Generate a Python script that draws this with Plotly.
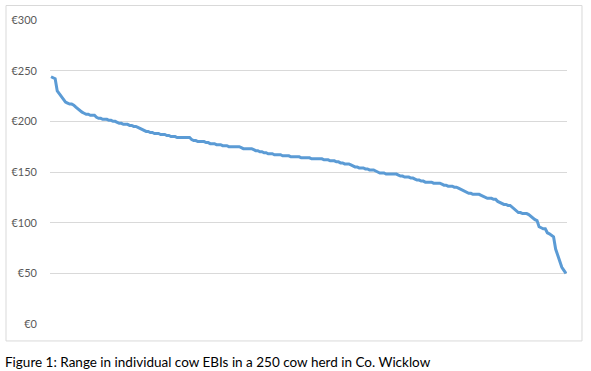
import plotly.graph_objects as go

ebi_values = [
    244, 243, 242, 230, 227, 225, 222, 219, 218, 217,
    217, 216, 214, 212, 210, 209, 208, 207, 207, 206,
    206, 206, 204, 203, 203, 202, 202, 202, 201, 201,
    200, 200, 199, 198, 198, 197, 197, 197, 196, 196,
    195, 195, 194, 193, 192, 191, 190, 190, 189, 189,
    188, 188, 188, 187, 187, 187, 186, 186, 185, 185,
    185, 184, 184, 184, 184, 184, 184, 184, 182, 181,
    181, 180, 180, 180, 180, 179, 179, 178, 178, 178,
    177, 177, 177, 176, 176, 176, 175, 175, 175, 175,
    175, 175, 174, 173, 173, 173, 173, 173, 172, 171,
    171, 170, 170, 169, 169, 168, 168, 168, 167, 167,
    167, 167, 166, 166, 166, 166, 165, 165, 165, 165,
    165, 164, 164, 164, 164, 164, 163, 163, 163, 163,
    163, 163, 162, 162, 162, 161, 161, 161, 160, 160,
    159, 159, 158, 158, 158, 157, 156, 155, 155, 154,
    154, 154, 153, 153, 152, 152, 152, 151, 150, 149,
    149, 149, 148, 148, 148, 148, 148, 148, 147, 146,
    146, 145, 145, 145, 144, 144, 143, 142, 142, 141,
    141, 140, 140, 140, 140, 139, 139, 139, 139, 138,
    137, 137, 136, 136, 136, 135, 135, 134, 133, 132,
    131, 130, 129, 129, 128, 128, 128, 128, 127, 126,
    125, 124, 124, 124, 123, 123, 121, 120, 119, 118,
    118, 117, 117, 115, 113, 111, 110, 110, 109, 109,
    109, 108, 106, 105, 103, 102, 96, 95, 94, 94,
    90, 89, 87, 86, 74, 68, 60, 56, 53, 50,
]
cow_index = list(range(1, len(ebi_values) + 1))

y_tick_values = [0, 50, 100, 150, 200, 250, 300]
y_tick_labels = ["€0", "€50", "€100", "€150", "€200", "€250", "€300"]

caption = "Figure 1: Range in individual cow EBIs in a 250 cow herd in Co. Wicklow"

fig = go.Figure()
fig.add_trace(go.Scatter(
    x=cow_index, y=ebi_values, mode="lines",
    line=dict(color="#5b9bd5", width=3),
    hoverinfo="skip", showlegend=False,
))

fig.update_layout(
    width=591, height=371,
    margin=dict(l=50, r=24, t=19.5, b=47),
    paper_bgcolor="white", plot_bgcolor="white",
    font=dict(family="Lato, Open Sans, sans-serif", color="#595959", size=11),
    xaxis=dict(visible=False, range=[0.5, 250.5]),
    yaxis=dict(
        range=[0, 300], tickvals=y_tick_values, ticktext=y_tick_labels,
        showgrid=True, gridcolor="#d9d9d9", gridwidth=1,
        zeroline=False, showline=False, ticks="", ticklabelstandoff=12,
        tickfont=dict(size=11, color="#595959"),
    ),
    shapes=[dict(
        type="rect", xref="paper", yref="paper",
        x0=-0.0851, x1=1.0290, y0=-0.0558, y1=1.0476,
        line=dict(color="#d9d9d9", width=1), fillcolor="rgba(0,0,0,0)", layer="below",
    )],
    annotations=[dict(
        text=caption, xref="paper", yref="paper",
        x=-0.0909, y=-0.1248, xanchor="left", yanchor="middle",
        showarrow=False, font=dict(family="Lato, Open Sans, sans-serif", size=13.5, color="#000000"),
    )],
)

fig.write_html(
    "out.html",
    config={"displayModeBar": False, "staticPlot": True},
    post_script="document.body.style.margin='0';document.body.style.overflow='hidden';",
)
